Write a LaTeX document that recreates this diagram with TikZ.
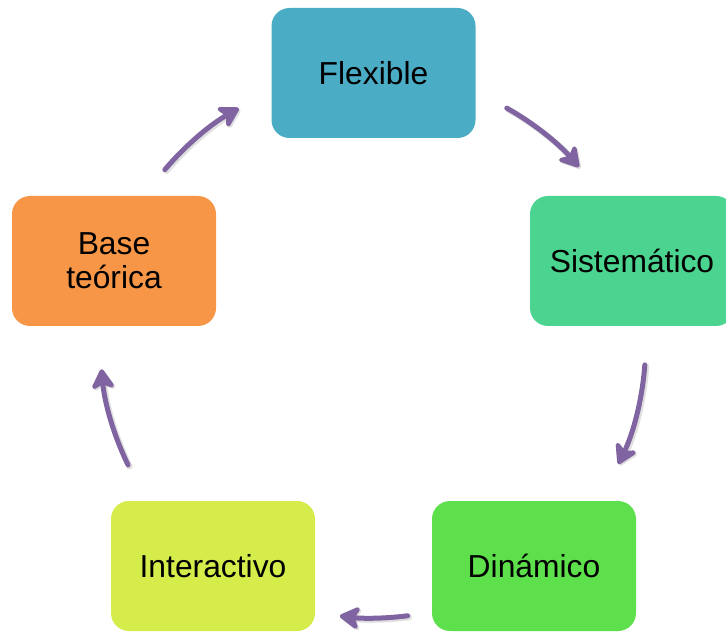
\documentclass[tikz,border=0pt]{standalone}
\usepackage{fontspec}
\setmainfont{Liberation Sans}
\usetikzlibrary{arrows.meta}
\definecolor{cAqua}{HTML}{4BACC6}
\definecolor{cTeal}{HTML}{4AD48F}
\definecolor{cGreen}{HTML}{5EE04C}
\definecolor{cLime}{HTML}{D5EC4A}
\definecolor{cOrange}{HTML}{F79646}
\definecolor{cPurple}{HTML}{8064A2}
\tikzset{
  stagebox/.style={rectangle, rounded corners=18pt, minimum width=204pt, minimum height=130pt,
    inner sep=0pt, align=center, font=\fontsize{31.8}{34}\selectfont, text=black},
  cyclearrow/.style={draw=cPurple, line width=5pt, line cap=round,
    -{Stealth[length=24pt,width=28pt,inset=7pt,round]}},
  cycleshadow/.style={draw=black, opacity=0.12, line width=6pt, line cap=round,
    -{Stealth[length=24pt,width=28pt,inset=7pt,round]}}
}
\newcommand{\cyclearc}[2]{%
  \draw[cycleshadow] ([shift={(#1:272.5pt)}]ctr) ++(1.5pt,-1.5pt) arc[start angle=#1, end angle=#2, radius=272.5pt];
  \draw[cyclearrow] ([shift={(#1:272.5pt)}]ctr) arc[start angle=#1, end angle=#2, radius=272.5pt];
}
\begin{document}
\begin{tikzpicture}[x=1pt,y=1pt]
  \useasboundingbox (0,0) rectangle (726,633);
  \clip (0,0) rectangle (726,633);
  \coordinate (ctr) at (373,287.5);

  \node[stagebox, fill=cAqua]   (flex) at (373.5,560) {Flexible};
  \node[stagebox, fill=cTeal]   (sist) at (632,372)   {Sistemático};
  \node[stagebox, fill=cGreen]  (dina) at (534,67)    {Dinámico};
  \node[stagebox, fill=cLime]   (inte) at (213,67)    {Interactivo};
  \node[stagebox, fill=cOrange] (base) at (114,372)   {Base\\teórica};

  % connecting arcs around the cycle centre
  \cyclearc{139.8}{119.5}
  \cyclearc{60.6}{40.9}
  \cyclearc{-4.1}{-25.8}
  \cyclearc{-82.7}{-97}
  \cyclearc{206}{185}
\end{tikzpicture}
\end{document}
